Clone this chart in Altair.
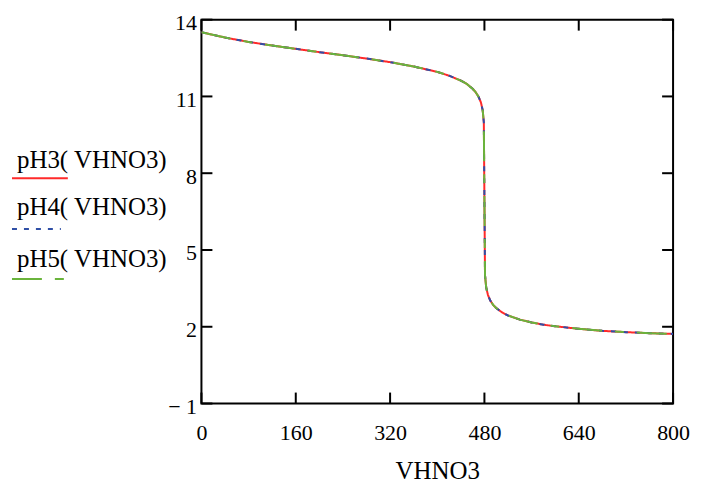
import altair as alt
import pandas as pd

# Values (three practically identical titration curves)
vhno3 = [0, 40, 80, 120, 160, 200, 240, 280, 320, 360, 400, 420, 440, 450, 460,
         465, 470, 474, 477, 479, 480, 481, 483, 486, 490, 495, 500, 510, 520,
         540, 560, 580, 600, 640, 680, 720, 760, 800]
ph3 = [13.51, 13.30, 13.13, 12.99, 12.86, 12.73, 12.61, 12.48, 12.34, 12.17, 11.96,
       11.81, 11.62, 11.49, 11.30, 11.17, 10.99, 10.77, 10.47, 9.99, 7.00, 4.01,
       3.54, 3.24, 3.02, 2.85, 2.73, 2.56, 2.44, 2.28, 2.17, 2.08, 2.02, 1.92,
       1.84, 1.79, 1.75, 1.72]
ph4 = [13.51, 13.30, 13.13, 12.99, 12.86, 12.73, 12.61, 12.48, 12.34, 12.17, 11.96,
       11.81, 11.62, 11.49, 11.30, 11.17, 10.99, 10.77, 10.47, 9.99, 7.00, 4.01,
       3.54, 3.24, 3.02, 2.85, 2.73, 2.56, 2.44, 2.28, 2.17, 2.08, 2.02, 1.92,
       1.84, 1.79, 1.75, 1.72]
ph5 = [13.51, 13.30, 13.13, 12.99, 12.86, 12.73, 12.61, 12.48, 12.34, 12.17, 11.96,
       11.81, 11.62, 11.49, 11.30, 11.17, 10.99, 10.77, 10.47, 9.99, 7.00, 4.01,
       3.54, 3.24, 3.02, 2.85, 2.73, 2.56, 2.44, 2.28, 2.17, 2.08, 2.02, 1.92,
       1.84, 1.79, 1.75, 1.72]

series_names = ["pH3(VHNO3)", "pH4(VHNO3)", "pH5(VHNO3)"]
legend_labels = ["pH3( VHNO3)", "pH4( VHNO3)", "pH5( VHNO3)"]
colors = ["#ff2a2a", "#2f4fa6", "#6ab43c"]
dashes = [[1, 0], [5, 7], [30, 13, 9, 13]]

x_ticks = [0, 160, 320, 480, 640, 800]
y_ticks = [-1, 2, 5, 8, 11, 14]

W, H = 473, 385
FONT = "Liberation Serif"
TL = 11

rows = []
for name, vals in zip(series_names, [ph3, ph4, ph5]):
    for v, p in zip(vhno3, vals):
        rows.append({"V": v, "pH": p, "series": name})
df = pd.DataFrame(rows)

xscale = alt.Scale(domain=[0, 800], nice=False, zero=False)
yscale = alt.Scale(domain=[-1, 14], nice=False, zero=False)

lines = alt.Chart(df).mark_line(strokeWidth=2, clip=True).encode(
    x=alt.X("V:Q", scale=xscale,
            axis=alt.Axis(values=x_ticks, title="VHNO3", grid=False, ticks=False,
                          domain=False, labelFont=FONT, labelFontSize=22,
                          labelColor="black", labelPadding=19, labelFlush=False,
                          titleFont=FONT, titleFontSize=25, titleFontWeight="normal",
                          titleColor="black", titlePadding=15)),
    y=alt.Y("pH:Q", scale=yscale,
            axis=alt.Axis(values=y_ticks, title=None, grid=False, ticks=False,
                          domain=False, labelFont=FONT, labelFontSize=22,
                          labelColor="black", labelPadding=5, labelOffset=3,
                          labelFlush=False,
                          labelExpr="datum.value < 0 ? '\u2212 ' + abs(datum.value) : datum.label")),
    color=alt.Color("series:N", scale=alt.Scale(domain=series_names, range=colors), legend=None),
    strokeDash=alt.StrokeDash("series:N", scale=alt.Scale(domain=series_names, range=dashes), legend=None),
    order=alt.Order("V:Q"),
)

ydf = pd.DataFrame({"t": y_ticks})
xdf = pd.DataFrame({"t": x_ticks})

left_ticks = alt.Chart(ydf).mark_rule(color="black", strokeWidth=2).encode(
    y=alt.Y("t:Q", scale=yscale), x=alt.value(0), x2=alt.value(TL))
right_ticks = alt.Chart(ydf).mark_rule(color="black", strokeWidth=2).encode(
    y=alt.Y("t:Q", scale=yscale), x=alt.value(W - TL), x2=alt.value(W))
bottom_ticks = alt.Chart(xdf).mark_rule(color="black", strokeWidth=2).encode(
    x=alt.X("t:Q", scale=xscale), y=alt.value(H - TL), y2=alt.value(H))
top_ticks = alt.Chart(xdf).mark_rule(color="black", strokeWidth=2).encode(
    x=alt.X("t:Q", scale=xscale), y=alt.value(0), y2=alt.value(TL))

# Legend on the left (Mathcad style: label with line sample beneath)
legend_layers = []
text_y = [149, 196, 248]
line_y = [159, 210, 260]
line_end = [-134, -141, -137]
for lab, c, d, ty, ly, le in zip(legend_labels, colors, dashes, text_y, line_y, line_end):
    tdf = pd.DataFrame({"label": [lab]})
    legend_layers.append(
        alt.Chart(tdf).mark_text(font=FONT, fontSize=25, align="left",
                                 baseline="alphabetic", color="black").encode(
            text="label:N", x=alt.value(-185), y=alt.value(ty)))
    legend_layers.append(
        alt.Chart(tdf).mark_rule(color=c, strokeWidth=2, strokeDash=d).encode(
            x=alt.value(-190), x2=alt.value(le), y=alt.value(ly)))

chart = alt.layer(lines, left_ticks, right_ticks, bottom_ticks, top_ticks,
                  *legend_layers).properties(
    width=W, height=H,
    background="white",
    autosize=alt.AutoSizeParams(type="none"),
    padding={"left": 194, "top": 11, "right": 25, "bottom": 78},
).configure_view(stroke="black", strokeWidth=2)

chart.save("out.html", embed_options={"renderer": "svg", "actions": False})
